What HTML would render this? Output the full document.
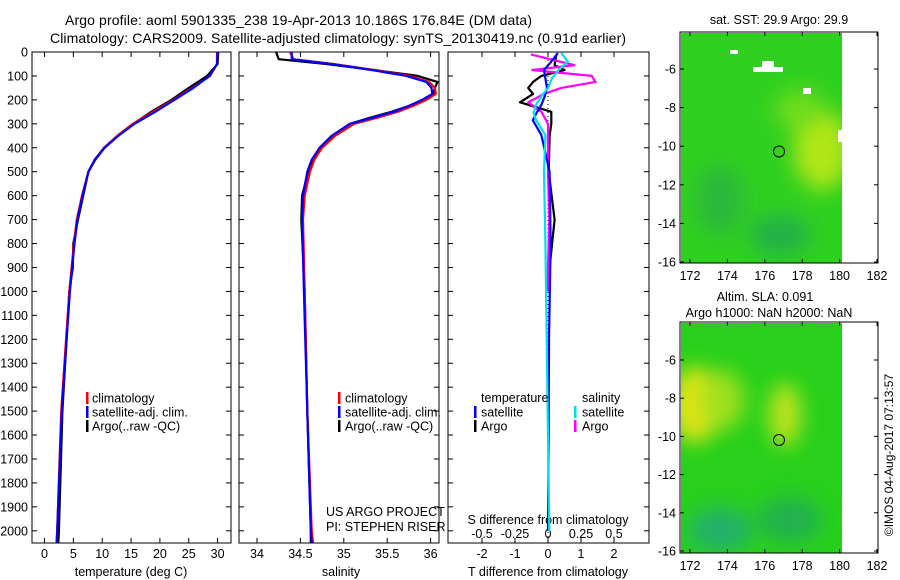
<!DOCTYPE html>
<html><head><meta charset="utf-8"><style>
body{margin:0;background:#fff}
svg{display:block;font-family:"Liberation Sans",sans-serif}
text{font-size:12.5px;fill:#000}
</style></head><body>
<svg id="chart" width="900" height="580" viewBox="0 0 900 580" xmlns="http://www.w3.org/2000/svg">
<defs>
<filter id="blur10"><feGaussianBlur stdDeviation="10"/></filter>
<clipPath id="clipSST"><rect x="681" y="33" width="161" height="230"/></clipPath>
<clipPath id="clipSLA"><rect x="681" y="323" width="161" height="230"/></clipPath>
</defs>
<text x="65" y="25" textLength="467" style="font-size:14px">Argo profile: aoml 5901335_238 19-Apr-2013 10.186S 176.84E (DM data)</text>
<text x="50" y="43" textLength="576" style="font-size:14px">Climatology: CARS2009. Satellite-adjusted climatology: synTS_20130419.nc (0.91d earlier)</text>
<g id="panels"></g>
<g id="maps">
 <text x="779" y="24" text-anchor="middle" style="font-size:12.5px">sat. SST: 29.9 Argo: 29.9</text>
 <g clip-path="url(#clipSST)">
  <rect x="681" y="33" width="161" height="230" fill="#30d020"/>
  <g filter="url(#blur10)">
   <ellipse cx="822" cy="150" rx="28" ry="40" fill="#b0e618"/>
   <ellipse cx="800" cy="110" rx="25" ry="20" fill="#70dc1c"/>
   <ellipse cx="780" cy="235" rx="30" ry="20" fill="#20b04a"/>
   <ellipse cx="720" cy="200" rx="25" ry="35" fill="#2ab83a"/>
  </g>
  <rect x="730" y="50" width="8" height="4" fill="#fff"/>
  <rect x="762" y="61" width="12" height="6" fill="#fff"/>
  <rect x="753" y="67" width="30" height="5" fill="#fff"/>
  <rect x="803" y="88" width="8" height="6" fill="#fff"/>
  <rect x="838" y="130" width="5" height="12" fill="#fff"/>
 </g>
 <rect x="680" y="32" width="198" height="231" fill="none" stroke="#000"/>
 <circle cx="779" cy="151.5" r="5.5" fill="none" stroke="#000"/>
 <text x="765" y="301" text-anchor="middle" style="font-size:12.5px">Altim. SLA: 0.091</text>
 <text x="769" y="317" text-anchor="middle" style="font-size:12.5px">Argo h1000: NaN h2000: NaN</text>
 <g clip-path="url(#clipSLA)">
  <rect x="681" y="323" width="161" height="230" fill="#28d01c"/>
  <g filter="url(#blur10)">
   <ellipse cx="695" cy="405" rx="25" ry="38" fill="#e0e418"/>
   <ellipse cx="722" cy="400" rx="22" ry="30" fill="#a0e01a"/>
   <ellipse cx="785" cy="415" rx="16" ry="32" fill="#c0e41a"/>
   <ellipse cx="720" cy="530" rx="32" ry="22" fill="#20b06a"/>
   <ellipse cx="790" cy="520" rx="32" ry="22" fill="#22b050"/>
  </g>
 </g>
 <rect x="680" y="322" width="198" height="231" fill="none" stroke="#000"/>
 <circle cx="779" cy="440" r="5.5" fill="none" stroke="#000"/>
 <text transform="translate(893,455) rotate(-90)" text-anchor="middle" style="font-size:12px">©IMOS 04-Aug-2017 07:13:57</text>
</g>
</svg>
<script>
// ---- data ----
const depths = [0,50,100,150,200,250,300,350,400,450,500,600,700,800,900,1000,1500,2000,2050];
const tempClim = [29.9,29.9,28.7,25.6,22.3,18.8,15.3,12.6,10.3,8.7,7.6,6.5,5.6,5.1,4.7,4.3,2.9,2.2,2.1];
const tempSat  = [30.0,29.9,28.6,25.8,22.5,19.2,15.6,12.8,10.4,8.7,7.6,6.6,5.7,5.2,4.8,4.4,3.0,2.2,2.1];
const tempArgo = [30.1,30.0,28.2,25.0,22.0,18.5,15.4,12.7,10.4,8.8,7.6,6.7,5.8,5.0,4.9,4.3,3.1,2.5,2.4];
const salDepths = [0,30,50,75,100,125,150,175,200,225,250,275,300,350,400,450,500,600,700,1000,1500,2000,2050];
const salClim = [34.38,34.42,34.88,35.35,35.76,35.98,36.05,36.06,35.95,35.80,35.62,35.38,35.12,34.90,34.75,34.66,34.61,34.55,34.53,34.55,34.58,34.63,34.645];
const salSat  = [34.40,34.40,34.85,35.32,35.72,35.95,36.01,36.02,35.90,35.75,35.57,35.33,35.07,34.86,34.72,34.63,34.58,34.53,34.52,34.54,34.58,34.62,34.63];
const salArgo = [34.22,34.25,34.80,35.35,35.85,36.08,36.05,36.03,35.92,35.75,35.55,35.30,35.07,34.87,34.73,34.64,34.59,34.52,34.51,34.55,34.58,34.62,34.62];
const diffDepths = [4,40,75,110,150,185,220,255,285,347,500,800,1200,1600,2000];
const tDiffSat  = [0.3,0.1,-0.12,-0.08,-0.03,-0.1,-0.2,-0.35,-0.46,-0.2,0.05,0.08,0.03,0.02,0.0];
const sDiffSat  = [0.1,0.15,0.08,0.03,0.0,-0.05,-0.09,-0.11,-0.09,-0.02,-0.03,-0.02,-0.01,0.0,0.01];
const aDiffDepths = [10,55,75,100,125,150,175,210,250,300,350,500,700,900,1000];
const tDiffArgo = [0.25,0.2,0.5,-0.2,-0.45,-0.6,-0.45,-0.85,0.1,0.1,0.05,0.02,0.2,0.05,0.0];
const sDiffArgo = [-0.13,0.2,-0.12,0.33,0.36,0.1,-0.03,-0.15,-0.05,0.0,0.0,0.0,0.01,0.0,0.0];
const depthTicks = [0,100,200,300,400,500,600,700,800,900,1000,1100,1200,1300,1400,1500,1600,1700,1800,1900,2000];
const tempTicks = [0,5,10,15,20,25,30];
const salTicks = [34,34.5,35,35.5,36];
const salTickLabels = ["34","34.5","35","35.5","36"];
const tdTicks = [-2,-1,0,1,2];
const sdTicks = [-0.5,-0.25,0,0.25,0.5];
const sdTickLabels = ["-0.5","-0.25","0","0.25","0.5"];
const lonTicks = [172,174,176,178,180,182];
const latTicks = [-6,-8,-10,-12,-14,-16];

// ---- axes ----
const TOP=52, BOT=543;
const yD = d => TOP + d*0.2394;
const xT = v => 44.5 + v*5.77;
const xS = v => 257 + (v-34)*86.8;
const xTD = v => 548 + v*33;
const xSD = v => 548 + v*132;
const lonX = v => 690 + (v-172)*18.7;
const latYsst = v => 69 + (-6 - v)*19.3;
const latYsla = v => 360 + (-6 - v)*19.1;

const NS="http://www.w3.org/2000/svg";
const root=document.getElementById('panels');
function mk(tag, attrs, parent){const e=document.createElementNS(NS,tag);for(const k in attrs)e.setAttribute(k,attrs[k]);(parent||root).appendChild(e);return e;}
function txt(x,y,s,anchor,parent){const t=mk('text',{x:x,y:y,'text-anchor':anchor||'middle'},parent);t.textContent=s;return t;}

function line(xs,ds,fx,color,name){
  const pts=xs.map((v,i)=>fx(v).toFixed(1)+','+yD(ds[i]).toFixed(1)).join(' ');
  const p=mk('polyline',{points:pts,fill:'none',stroke:color,'stroke-width':2.2,'stroke-linejoin':'round'});
  
  
}
function frame(x0,x1,name,xticksPx){
  const r=mk('rect',{x:x0,y:TOP,width:x1-x0,height:BOT-TOP,fill:'none',stroke:'#000','stroke-width':1});
  
  
  depthTicks.forEach(d=>{mk('line',{x1:x0,x2:x0+5,y1:yD(d),y2:yD(d),stroke:'#000'});mk('line',{x1:x1,x2:x1-5,y1:yD(d),y2:yD(d),stroke:'#000'});});
  xticksPx.forEach(px=>{mk('line',{x1:px,x2:px,y1:TOP,y2:TOP+5,stroke:'#000'});mk('line',{x1:px,x2:px,y1:BOT,y2:BOT-5,stroke:'#000'});});
}

// panel 1
frame(32,231,'temperature-panel',tempTicks.map(xT));
depthTicks.forEach(d=>{const t=txt(28,yD(d)+4.5,String(d),'end');});
tempTicks.forEach(v=>{const t=txt(xT(v),558,String(v));});
let t1=txt(131,576,'temperature (deg C)');
line(tempArgo,depths,xT,'#000','temp-argo-line');
line(tempClim,depths,xT,'#ff0000','temp-clim-line');
line(tempSat,depths,xT,'#0000ff','temp-sat-line');

// panel 2
frame(239,439,'salinity-panel',salTicks.map(xS));
salTicks.forEach((v,i)=>{const t=txt(xS(v),558,salTickLabels[i]);});
let t2=txt(341,576,'salinity');
line(salArgo,salDepths,xS,'#000','sal-argo-line');
line(salClim,salDepths,xS,'#ff0000','sal-clim-line');
line(salSat,salDepths,xS,'#0000ff','sal-sat-line');
let c1=txt(326,516,'US ARGO PROJECT','start');
let c2=txt(326,531,'PI: STEPHEN RISER','start');

// legends panel 1 & 2
[[86,92],[338,345]].forEach(([bx,tx])=>{
  [['#ff0000','climatology'],['#0000ff','satellite-adj. clim.'],['#000','Argo(..raw -QC)']].forEach(([c,s],i)=>{
    const y=398+i*14;
    const b=mk('rect',{x:bx,y:y-6,width:2.5,height:12,fill:c});
    
    
    const t=txt(tx,y+4.5,s,'start');
    
    
  });
});

// panel 3
frame(448,649,'difference-panel',tdTicks.map(xTD));
mk('line',{x1:548,x2:548,y1:TOP,y2:BOT,stroke:'#000','stroke-dasharray':'1,3'});
tdTicks.forEach(v=>{const t=txt(xTD(v),558,String(v));});
sdTicks.forEach((v,i)=>{const t=txt(xSD(v),538,sdTickLabels[i]);});
let t3=txt(548,524,'S difference from climatology');
let t4=txt(548,576,'T difference from climatology');
line(tDiffArgo,aDiffDepths,xTD,'#000','tdiff-argo-line');
line(sDiffArgo,aDiffDepths,xSD,'#ff00ff','sdiff-argo-line');
line(tDiffSat,diffDepths,xTD,'#0000ff','tdiff-sat-line');
line(sDiffSat,diffDepths,xSD,'#00e0e8','sdiff-sat-line');
let h1=txt(481,402,'temperature','start');
let h2=txt(582,402,'salinity','start');
[[474,481,'#0000ff','satellite',412],[474,481,'#000','Argo',426],[574,582,'#00e0e8','satellite',412],[574,582,'#ff00ff','Argo',426]].forEach(([bx,tx,c,s,y])=>{
  const b=mk('rect',{x:bx,y:y-6,width:2.5,height:12,fill:c});
  
  
  const t=txt(tx,y+4.5,s,'start');
  
  
});

// map ticks
const maps=document.getElementById('maps');
[[latYsst,32,263],[latYsla,322,553]].forEach(([fy,top,bot])=>{
  latTicks.forEach(v=>{
    mk('line',{x1:680,x2:684,y1:fy(v),y2:fy(v),stroke:'#000'},maps);
    mk('line',{x1:878,x2:874,y1:fy(v),y2:fy(v),stroke:'#000'},maps);
    const t=txt(676,fy(v)+4.5,String(v),'end',maps);
    
    
  });
  lonTicks.forEach(v=>{
    mk('line',{x1:lonX(v),x2:lonX(v),y1:top,y2:top+4,stroke:'#000'},maps);
    mk('line',{x1:lonX(v),x2:lonX(v),y1:bot,y2:bot-4,stroke:'#000'},maps);
    const t=txt(lonX(v),bot+17,String(v),'middle',maps);
    
    
  });
});
</script>
</body></html>
